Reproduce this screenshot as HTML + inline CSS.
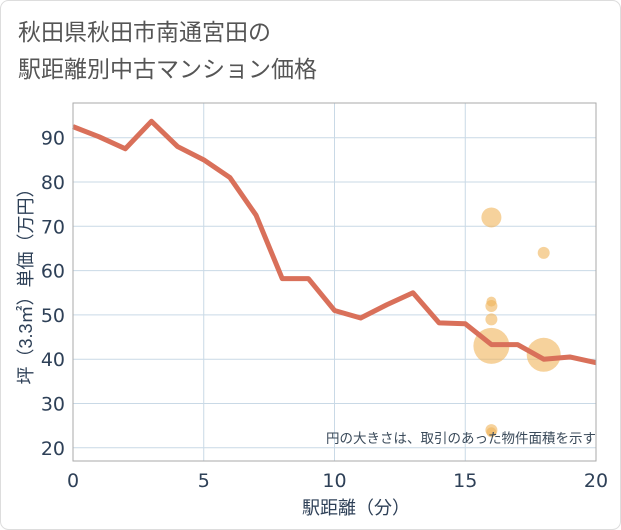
<!DOCTYPE html>
<html><head><meta charset="utf-8"><style>
body{margin:0;background:#fff;}
svg{display:block;font-family:"Liberation Sans","Noto Sans CJK JP",sans-serif;}
</style></head><body>
<svg id="chart" width="621" height="530" viewBox="0 0 621 530">
<rect x="0.5" y="0.5" width="620" height="529" rx="8" fill="#fff" stroke="#ddd"/>
<text x="18" y="40" font-size="23" fill="#555">秋田県秋田市南通宮田の</text>
<text x="18" y="77" font-size="23" fill="#555">駅距離別中古マンション価格</text>
<g id="grid"></g>
<g id="bubbles"></g>
<g id="line"></g>
<g id="axes"></g>
<text x="596" y="443" font-size="13.5" fill="#3a4a5a" text-anchor="end">円の大きさは、取引のあった物件面積を示す</text>
<text x="356" y="514" font-size="18" fill="#2e4057" text-anchor="middle">駅距離（分）</text>
<text transform="translate(32,282) rotate(-90)" font-size="18" fill="#2e4057" text-anchor="middle">坪（3.3㎡）単価（万円）</text>
</svg>
<script>
const xTicks=[0,5,10,15,20];
const yTicks=[20,30,40,50,60,70,80,90];
const lineX=[0,1,2,3,4,5,6,7,8,9,10,11,12,13,14,15,16,17,18,19,20];
const lineY=[92.5,90.2,87.5,93.7,88,85,81,72.5,58.2,58.2,51,49.3,52.3,55,48.2,48,43.3,43.3,40,40.5,39.2];
const bubX=[16,16,16,16,16,16,16,18,18];
const bubY=[72,53,52,49,43,24,23.5,64,41];
const bubR=[10,5,6,6,18,6,5,6,17];
const L=73,R=596,T=103,B=461;
const sx=v=>L+(R-L)*v/20;
const sy=v=>137.7+(90-v)*4.43;
const NS='http://www.w3.org/2000/svg';
function mk(p,tag,attrs){const e=document.createElementNS(NS,tag);for(const k in attrs)e.setAttribute(k,attrs[k]);p.appendChild(e);return e;}
const grid=document.getElementById('grid'),axes=document.getElementById('axes');
yTicks.forEach(v=>{
 const l=mk(grid,'line',{x1:L,x2:R,y1:sy(v),y2:sy(v),stroke:'#c9d9e6','stroke-width':1});
 
 
 const t=mk(axes,'text',{x:L-8,y:sy(v)+7,'font-size':19,fill:'#2e4057','text-anchor':'end','font-family':'DejaVu Sans, sans-serif'});
 t.textContent=v;
 
 
});
xTicks.forEach(v=>{
 const l=mk(grid,'line',{x1:sx(v),x2:sx(v),y1:T,y2:B,stroke:'#c9d9e6','stroke-width':1});
 
 
 const t=mk(axes,'text',{x:sx(v),y:B+26,'font-size':19,fill:'#2e4057','text-anchor':'middle','font-family':'DejaVu Sans, sans-serif'});
 t.textContent=v;
 
 
});
const fr=mk(axes,'rect',{x:L,y:T,width:R-L,height:B-T,fill:'none',stroke:'#aaa','stroke-width':1});


const bg=document.getElementById('bubbles');
bubX.forEach((x,i)=>{
 const c=mk(bg,'circle',{cx:sx(x),cy:sy(bubY[i]),r:bubR[i],fill:'rgba(240,180,90,0.6)'});
 
 
});
const pts=lineX.map((x,i)=>sx(x)+','+sy(lineY[i])).join(' ');
const pl=mk(document.getElementById('line'),'polyline',{points:pts,fill:'none',stroke:'#d9705a','stroke-width':5,'stroke-linejoin':'round'});


</script>
</body></html>
